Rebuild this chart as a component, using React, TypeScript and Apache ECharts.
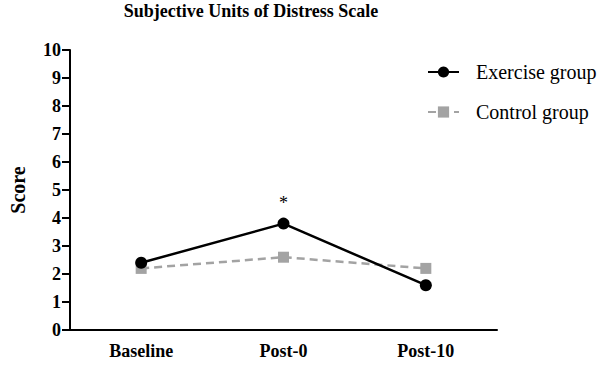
import React, { useEffect, useRef } from "react";
import * as echarts from "echarts";

const categories = ["Baseline", "Post-0", "Post-10"];
const exerciseValues = [2.4, 3.8, 1.6];
const controlValues = [2.2, 2.6, 2.2];
const yTicks = [0, 10, 1]; // min, max, interval
const significantIndex = 1;

const FONT = "'Liberation Serif', 'Times New Roman', serif";

export default function App() {
  const ref = useRef<HTMLDivElement>(null);
  useEffect(() => {
    if (!ref.current) return;
    const chart = echarts.init(ref.current, undefined, { renderer: "svg" });
    chart.setOption({
      animation: false,
      backgroundColor: "#ffffff",
      title: {
        text: "Subjective Units of Distress Scale",
        left: 251,
        textAlign: "center",
        top: 2,
        padding: 0,
        textStyle: { fontFamily: FONT, fontSize: 18, fontWeight: "bold", color: "#000" },
      },
      legend: {
        orient: "vertical",
        left: 427,
        top: 62,
        padding: 0,
        itemWidth: 31,
        itemHeight: 14,
        itemGap: 20,
        textStyle: { fontFamily: FONT, fontSize: 20, color: "#000", padding: [0, 0, 0, 12] },
        data: ["Exercise group", "Control group"],
      },
      grid: { left: 65, right: 103, top: 50, bottom: 36 },
      xAxis: {
        type: "category",
        data: categories,
        boundaryGap: true,
        axisLine: { lineStyle: { color: "#000", width: 2 } },
        axisTick: { alignWithLabel: true, length: 8, lineStyle: { color: "#000", width: 2 } },
        axisLabel: { fontFamily: FONT, fontSize: 18, fontWeight: "bold", color: "#000", margin: 12 },
        splitLine: { show: false },
      },
      yAxis: {
        type: "value",
        min: yTicks[0],
        max: yTicks[1],
        interval: yTicks[2],
        name: "Score",
        nameLocation: "middle",
        nameGap: 42,
        nameRotate: 90,
        nameTextStyle: { fontFamily: FONT, fontSize: 20, fontWeight: "bold", color: "#000" },
        axisLine: { show: true, lineStyle: { color: "#000", width: 2 } },
        axisTick: { show: true, length: 8, lineStyle: { color: "#000", width: 2 } },
        axisLabel: { fontFamily: FONT, fontSize: 18, fontWeight: "bold", color: "#000", margin: 9 },
        splitLine: { show: false },
      },
      series: [
        {
          name: "Control group",
          type: "line",
          data: controlValues,
          symbol: "rect",
          symbolSize: 11,
          itemStyle: { color: "#a3a3a3" },
          lineStyle: { color: "#a3a3a3", width: 2.5, type: [8, 5] },
          z: 2,
        },
        {
          name: "Exercise group",
          type: "line",
          data: exerciseValues.map((v, i) =>
            i === significantIndex
              ? {
                  value: v,
                  label: {
                    show: true,
                    formatter: "*",
                    position: "top",
                    distance: 6,
                    fontFamily: FONT,
                    fontSize: 18,
                    color: "#000",
                  },
                }
              : v
          ),
          symbol: "circle",
          symbolSize: 12,
          itemStyle: { color: "#000" },
          lineStyle: { color: "#000", width: 2.5 },
          z: 3,
        },
      ],
    });
    return () => chart.dispose();
  }, []);
  return (
    <div
      ref={ref}
      style={{ position: "fixed", left: 0, top: 0, width: 600, height: 366, background: "#fff" }}
    />
  );
}
